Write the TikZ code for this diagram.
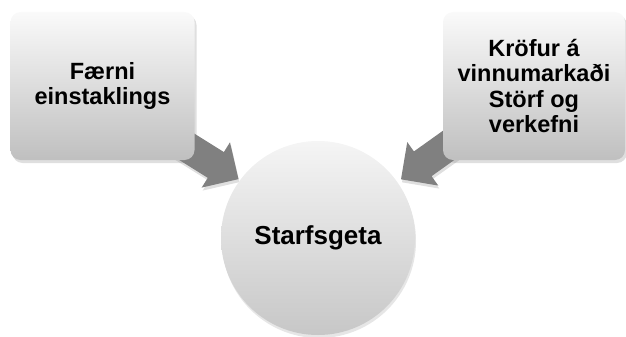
\documentclass[tikz,border=0pt]{standalone}
\usepackage{fontspec}
\setmainfont{Liberation Sans}
\usetikzlibrary{positioning,shapes.arrows,shadows}

\begin{document}
\begin{tikzpicture}[
    x=1pt, y=-1pt,
    boxnode/.style={rounded corners=10pt, top color=black!2, bottom color=black!25, minimum width=184pt, minimum height=148pt, align=center, font=\bfseries\fontsize{23.5}{24.5}\selectfont, drop shadow={shadow xshift=2pt, shadow yshift=-3pt, opacity=0.25}},
    hubnode/.style={circle, minimum size=194pt, top color=black!4, bottom color=black!22, font=\bfseries\fontsize{26}{28}\selectfont, drop shadow={shadow xshift=1pt, shadow yshift=-3pt, opacity=0.2}},
    blockarrow/.style={single arrow, fill=black!50, draw=none, inner xsep=0pt, inner ysep=15pt, minimum height=72pt, single arrow head extend=11.5pt, drop shadow={shadow xshift=1pt, shadow yshift=-3pt, opacity=0.25}}
]

\useasboundingbox (0,0) rectangle (626,337);

% Arrows into the hub (behind the boxes)
\node[blockarrow, rotate=-32] (arrleft) at (201.5,156) {};
\node[blockarrow, rotate=-144.5] (arrright) at (436.5,154) {};

% Input boxes
\node[boxnode] (skills) at (102.5,86) {Færni\\einstaklings};
\node[boxnode, minimum width=182pt] (demands) at (534,86) {Kröfur á\\vinnumarkaði\\[2pt]Störf og\\verkefni};

% Hub
\node[hubnode] (capacity) at (318,238) {Starfsgeta};

\end{tikzpicture}
\end{document}
